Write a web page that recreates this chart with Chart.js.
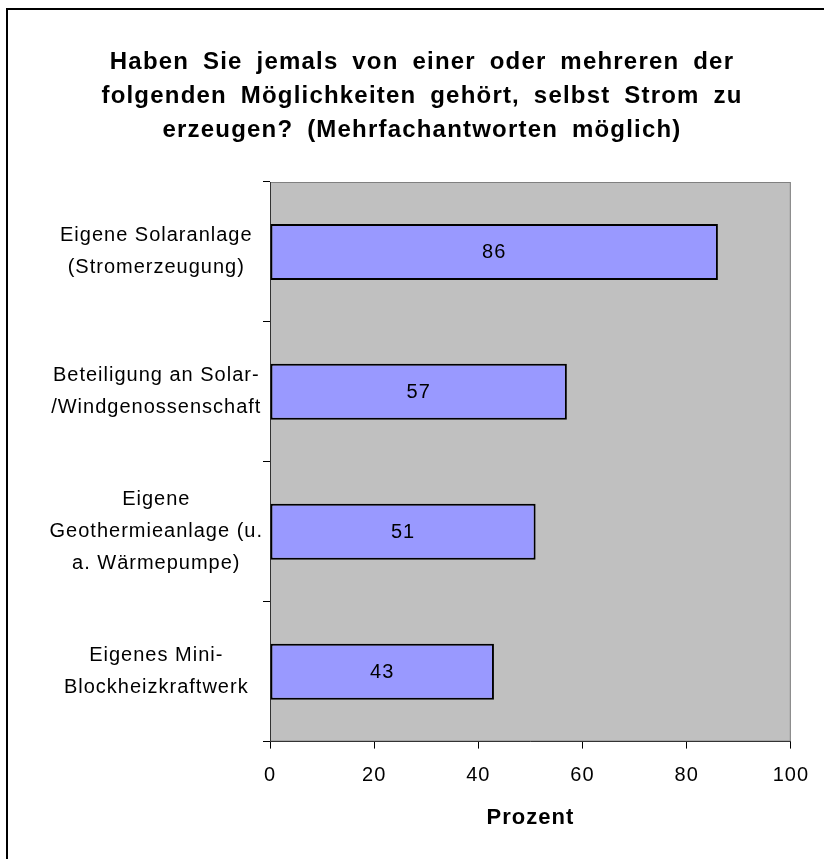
<!DOCTYPE html>
<html>
<head>
<meta charset="utf-8">
<script src="https://cdn.jsdelivr.net/npm/chart.js@4/dist/chart.umd.min.js"></script>
<style>
    html, body { margin: 0; padding: 0; background: #fff; }
    #wrap { position: relative; width: 824px; height: 859px; }
</style>
</head>
<body>
<div id="wrap"><canvas id="chart" width="824" height="859"></canvas></div>
<script>
// Daten
const categories = [
    ['Eigene Solaranlage', '(Stromerzeugung)'],
    ['Beteiligung an Solar-', '/Windgenossenschaft'],
    ['Eigene', 'Geothermieanlage (u.', 'a. Wärmepumpe)'],
    ['Eigenes Mini-', 'Blockheizkraftwerk']
];
const values = [86, 57, 51, 43];
const titleLines = [
    'Haben Sie jemals von einer oder mehreren der',
    'folgenden Möglichkeiten gehört, selbst Strom zu',
    'erzeugen? (Mehrfachantworten möglich)'
];
const xTitle = 'Prozent';

const FONT = "'Liberation Sans', Arial, sans-serif";
const SPACING = '1px';

// etwas breitere Schrift wie im Original
const textSpacing = {
    id: 'textSpacing',
    beforeLayout(chart) { chart.ctx.letterSpacing = SPACING; },
    beforeDraw(chart) { chart.ctx.letterSpacing = SPACING; }
};

// grauer Hintergrund + Rahmen + Titel
const plotBackground = {
    id: 'plotBackground',
    beforeDraw(chart) {
        const { ctx, chartArea: a } = chart;
        ctx.save();
        // äußerer Rahmen (nur oben und links sichtbar)
        ctx.strokeStyle = '#000';
        ctx.lineWidth = 2;
        ctx.beginPath();
        ctx.moveTo(7, 859);
        ctx.lineTo(7, 9);
        ctx.lineTo(824, 9);
        ctx.stroke();
        ctx.fillStyle = '#C0C0C0';
        ctx.fillRect(a.left, a.top, a.right - a.left, a.bottom - a.top);
        ctx.strokeStyle = '#808080';
        ctx.lineWidth = 1;
        ctx.strokeRect(a.left + 0.5, a.top + 0.5, a.right - a.left - 1, a.bottom - a.top - 1);

        // Titel
        ctx.font = 'bold 24px ' + FONT;
        ctx.fillStyle = '#000';
        ctx.textAlign = 'center';
        ctx.textBaseline = 'middle';
        ctx.letterSpacing = '1.2px';
        ctx.wordSpacing = '6px';
        titleLines.forEach((line, i) => ctx.fillText(line, 422, 62 + i * 34));
        ctx.restore();
    }
};

// Werte in den Balken
const barValues = {
    id: 'barValues',
    afterDatasetsDraw(chart) {
        const { ctx } = chart;
        ctx.save();
        ctx.font = '20px ' + FONT;
        ctx.fillStyle = '#000';
        ctx.textAlign = 'center';
        ctx.textBaseline = 'middle';
        chart.getDatasetMeta(0).data.forEach((bar, i) => {
            const { x, y, base } = bar.getProps(['x', 'y', 'base'], true);
            ctx.fillText(String(values[i]), (x + base) / 2, y + 1);
        });
        ctx.restore();
    }
};

new Chart(document.getElementById('chart'), {
    type: 'bar',
    data: {
        labels: categories,
        datasets: [{
            data: values,
            backgroundColor: '#9999FF',
            borderColor: '#000000',
            borderWidth: 2,
            borderSkipped: false,
            barPercentage: 0.4,
            categoryPercentage: 1.0
        }]
    },
    options: {
        indexAxis: 'y',
        responsive: false,
        animation: false,
        devicePixelRatio: 1,
        layout: { padding: { top: 182, left: 8, right: 33, bottom: 28 } },
        plugins: {
            legend: { display: false },
            tooltip: { enabled: false },
            title: { display: false }
        },
        scales: {
            y: {
                grid: {
                    offset: true,
                    drawOnChartArea: false,
                    drawTicks: true,
                    tickLength: 7,
                    color: '#000'
                },
                border: { display: true, color: '#333', width: 1 },
                ticks: {
                    color: '#000',
                    crossAlign: 'center',
                    padding: 0,
                    font: { family: FONT, size: 20, lineHeight: 1.6 }
                },
                afterFit(scale) { scale.width = 262; }
            },
            x: {
                min: 0,
                max: 100,
                grid: {
                    drawOnChartArea: false,
                    drawTicks: true,
                    tickLength: 7,
                    color: '#000'
                },
                border: { display: true, color: '#333', width: 1 },
                ticks: {
                    stepSize: 20,
                    color: '#000',
                    padding: 15,
                    font: { family: FONT, size: 20 }
                },
                title: {
                    display: true,
                    text: xTitle,
                    color: '#000',
                    font: { family: FONT, size: 22, weight: 'bold' },
                    padding: { top: 2, bottom: 0 }
                }
            }
        }
    },
    plugins: [textSpacing, plotBackground, barValues]
});
</script>
</body>
</html>
